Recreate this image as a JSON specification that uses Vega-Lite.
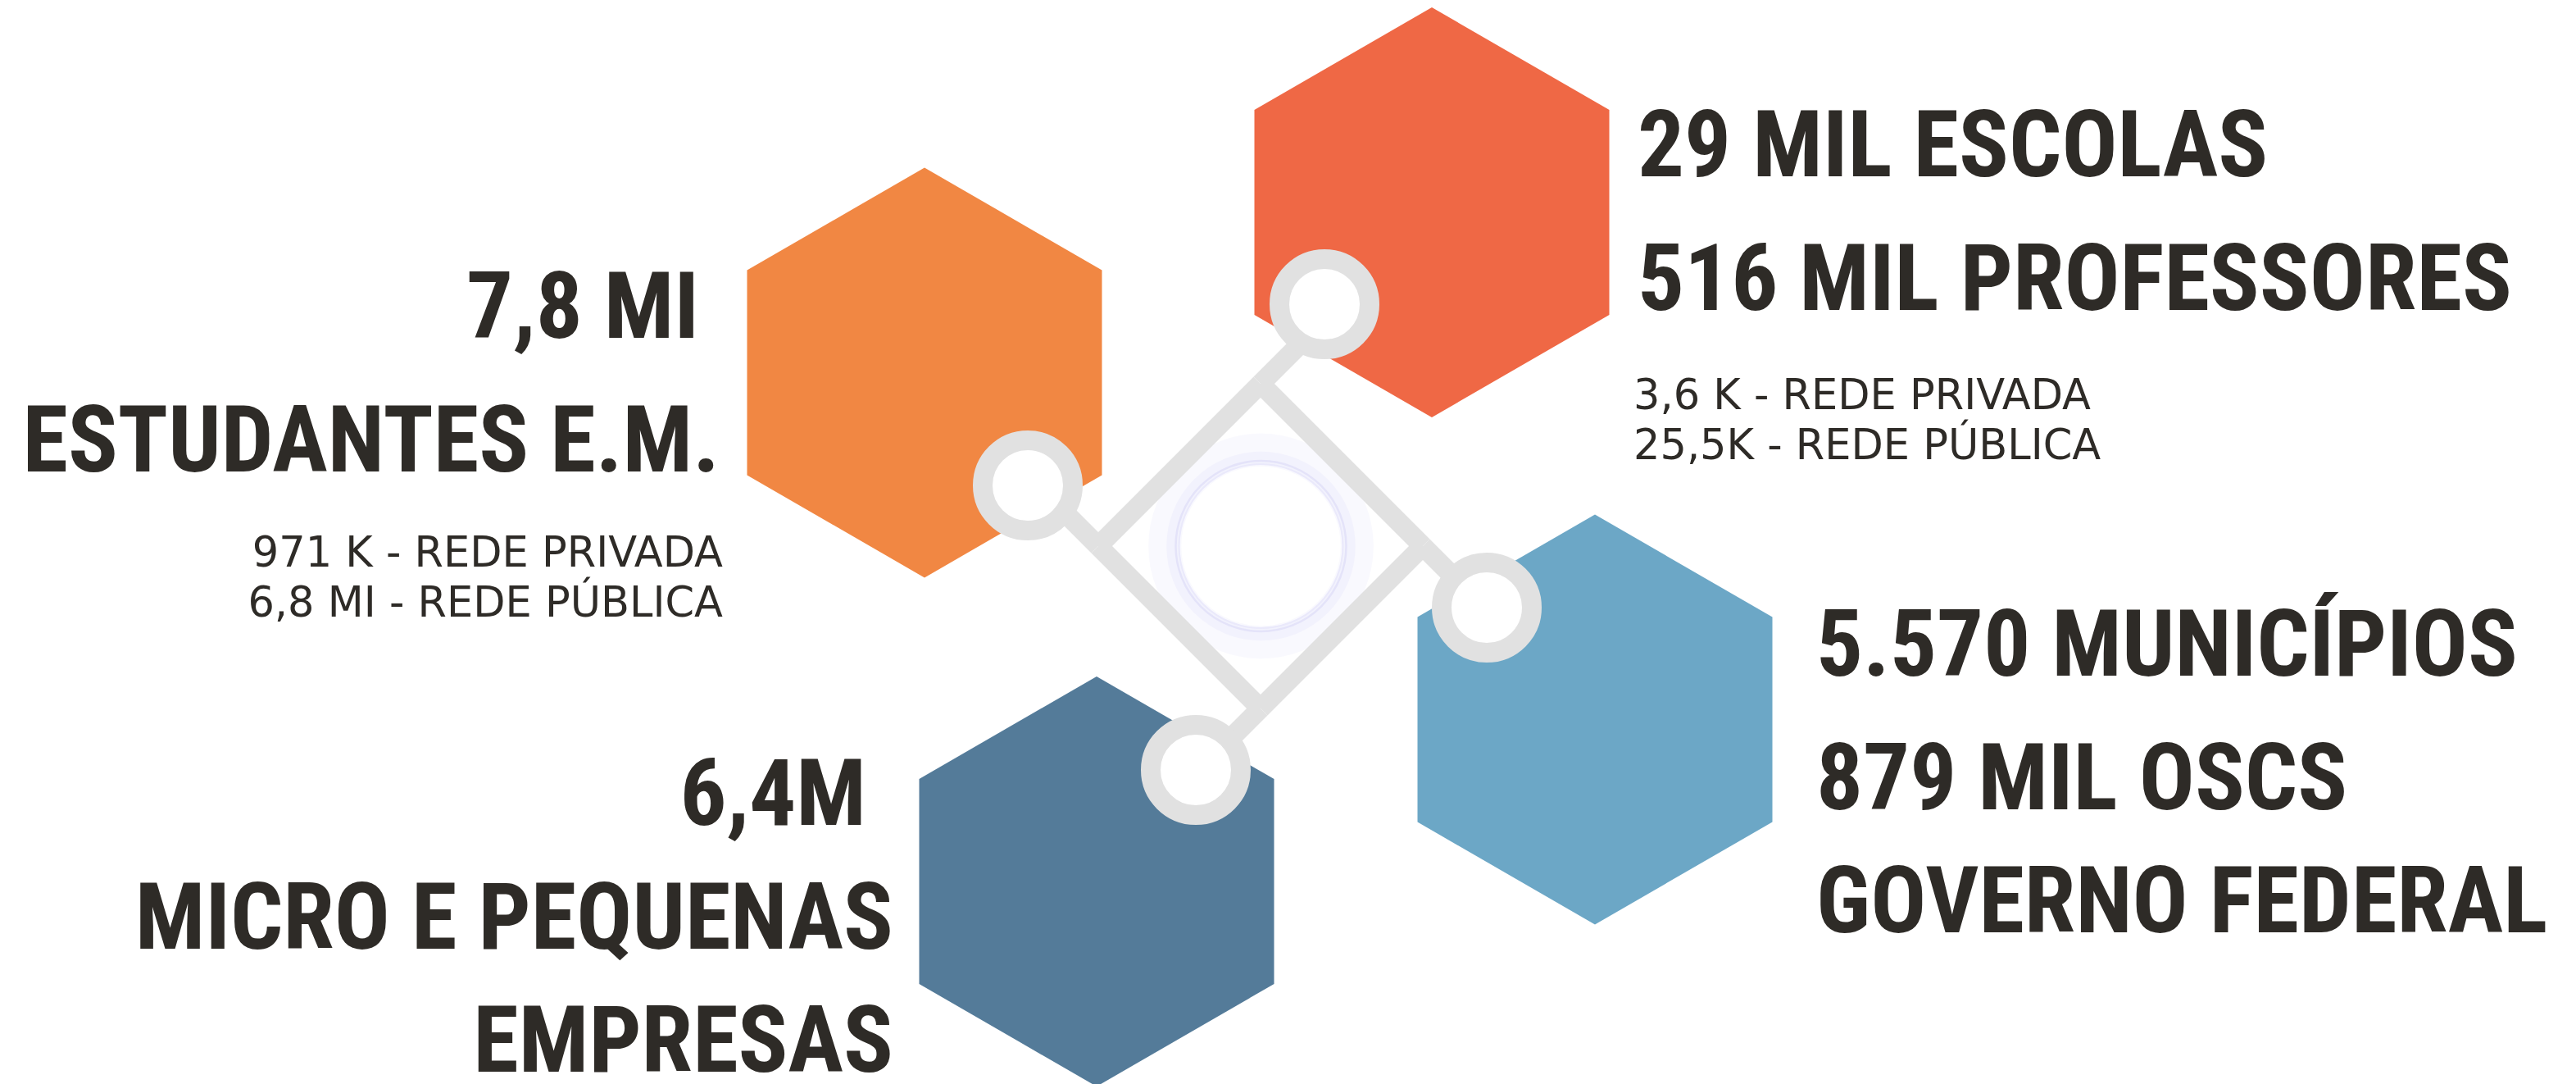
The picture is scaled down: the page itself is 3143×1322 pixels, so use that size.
{
  "$schema": "https://vega.github.io/schema/vega-lite/v6.json",
  "width": 3143,
  "height": 1322,
  "padding": 0,
  "autosize": {"type": "none"},
  "background": "#ffffff",
  "config": {"view": {"stroke": null}},
  "datasets": {
    "hexes": [
      {"topic": "estudantes", "x": 1128, "y": 454.5},
      {"topic": "escolas", "x": 1747, "y": 259},
      {"topic": "municipios", "x": 1946, "y": 877.5},
      {"topic": "empresas", "x": 1338, "y": 1075}
    ],
    "links": [
      {"x": 1340, "y": 666, "x2": 1538, "y2": 468},
      {"x": 1538, "y": 468, "x2": 1625, "y2": 381},
      {"x": 1538, "y": 468, "x2": 1736, "y2": 666},
      {"x": 1736, "y": 666, "x2": 1812, "y2": 742},
      {"x": 1736, "y": 666, "x2": 1538, "y2": 864},
      {"x": 1538, "y": 864, "x2": 1461, "y2": 941},
      {"x": 1538, "y": 864, "x2": 1340, "y2": 666},
      {"x": 1340, "y": 666, "x2": 1260, "y2": 586}
    ],
    "rings": [
      {"topic": "estudantes", "x": 1254, "y": 592},
      {"topic": "escolas", "x": 1616, "y": 371},
      {"topic": "municipios", "x": 1814, "y": 741},
      {"topic": "empresas", "x": 1459, "y": 939}
    ],
    "hub": [
      {"x": 1538.5, "y": 666}
    ],
    "labels": [
      {"block": "estudantes", "role": "headline", "text": "7,8 MI", "x": 853, "y": 428},
      {"block": "estudantes", "role": "headline", "text": "ESTUDANTES E.M.", "x": 878, "y": 591},
      {"block": "estudantes", "role": "detail", "text": "971 K - REDE PRIVADA", "x": 882, "y": 689},
      {"block": "estudantes", "role": "detail", "text": "6,8 MI - REDE PÚBLICA", "x": 882, "y": 750},
      {"block": "escolas", "role": "headline", "text": "29 MIL ESCOLAS", "x": 1998, "y": 231},
      {"block": "escolas", "role": "headline", "text": "516 MIL PROFESSORES", "x": 1998, "y": 394},
      {"block": "escolas", "role": "detail", "text": "3,6 K - REDE PRIVADA", "x": 1993, "y": 497},
      {"block": "escolas", "role": "detail", "text": "25,5K - REDE PÚBLICA", "x": 1993, "y": 558},
      {"block": "municipios", "role": "headline", "text": "5.570 MUNICÍPIOS", "x": 2216, "y": 840},
      {"block": "municipios", "role": "headline", "text": "879 MIL OSCS", "x": 2216, "y": 1003},
      {"block": "municipios", "role": "headline", "text": "GOVERNO FEDERAL", "x": 2216, "y": 1153},
      {"block": "empresas", "role": "headline", "text": "6,4M", "x": 1057, "y": 1022},
      {"block": "empresas", "role": "headline", "text": "MICRO E PEQUENAS", "x": 1090, "y": 1173},
      {"block": "empresas", "role": "headline", "text": "EMPRESAS", "x": 1090, "y": 1323}
    ]
  },
  "encoding": {
    "x": {"field": "x", "type": "quantitative", "axis": null, "scale": {"domain": [0, 3143], "nice": false, "zero": false}},
    "y": {"field": "y", "type": "quantitative", "axis": null, "scale": {"domain": [0, 1322], "nice": false, "zero": false, "reverse": true}}
  },
  "layer": [
    {
      "data": {"name": "hexes"},
      "mark": {"type": "point", "shape": "M0,-1L0.866,-0.5L0.866,0.5L0,1L-0.866,0.5L-0.866,-0.5Z", "size": 250000, "filled": true, "opacity": 1, "strokeWidth": 0},
      "encoding": {
        "color": {"field": "topic", "type": "nominal", "legend": null, "scale": {"domain": ["estudantes", "escolas", "municipios", "empresas"], "range": ["#F18743", "#EF6845", "#6CA7C6", "#547B99"]}}
      }
    },
    {
      "data": {"name": "hub"},
      "mark": {"type": "point", "shape": "circle", "size": 55000, "filled": false, "stroke": "#efeefd", "strokeWidth": 40, "opacity": 0.35}
    },
    {
      "data": {"name": "hub"},
      "mark": {"type": "point", "shape": "circle", "size": 46000, "filled": false, "stroke": "#ebeafc", "strokeWidth": 16, "opacity": 0.45}
    },
    {
      "data": {"name": "hub"},
      "mark": {"type": "point", "shape": "circle", "size": 43264, "filled": false, "stroke": "#e4e3f9", "strokeWidth": 2.5, "opacity": 1}
    },
    {
      "data": {"name": "hub"},
      "mark": {"type": "point", "shape": "circle", "size": 40000, "filled": false, "stroke": "#eae9fb", "strokeWidth": 2, "opacity": 1}
    },
    {
      "data": {"name": "links"},
      "mark": {"type": "rule", "stroke": "#E1E1E1", "strokeWidth": 24, "strokeCap": "butt"},
      "encoding": {
        "x2": {"field": "x2"},
        "y2": {"field": "y2"}
      }
    },
    {
      "data": {"name": "rings"},
      "mark": {"type": "point", "shape": "circle", "size": 12100, "fill": "#ffffff", "stroke": "#E1E1E1", "strokeWidth": 24, "opacity": 1, "fillOpacity": 1, "strokeOpacity": 1}
    },
    {
      "data": {"name": "labels"},
      "transform": [{"filter": {"field": "role", "equal": "headline"}}, {"filter": {"field": "block", "oneOf": ["estudantes", "empresas"]}}],
      "mark": {"type": "text", "align": "right", "baseline": "alphabetic", "dy": -16, "font": "Roboto Condensed, DejaVu Sans Condensed, sans-serif", "fontWeight": "bold", "fontSize": 113, "color": "#2E2B27"},
      "encoding": {"text": {"field": "text"}}
    },
    {
      "data": {"name": "labels"},
      "transform": [{"filter": {"field": "role", "equal": "headline"}}, {"filter": {"field": "block", "oneOf": ["escolas", "municipios"]}}],
      "mark": {"type": "text", "align": "left", "baseline": "alphabetic", "dy": -16, "font": "Roboto Condensed, DejaVu Sans Condensed, sans-serif", "fontWeight": "bold", "fontSize": 113, "color": "#2E2B27"},
      "encoding": {"text": {"field": "text"}}
    },
    {
      "data": {"name": "labels"},
      "transform": [{"filter": {"field": "role", "equal": "detail"}}, {"filter": {"field": "block", "equal": "estudantes"}}],
      "mark": {"type": "text", "align": "right", "baseline": "alphabetic", "dy": 2, "font": "DejaVu Sans", "fontSize": 51, "color": "#2E2B27"},
      "encoding": {"text": {"field": "text"}}
    },
    {
      "data": {"name": "labels"},
      "transform": [{"filter": {"field": "role", "equal": "detail"}}, {"filter": {"field": "block", "equal": "escolas"}}],
      "mark": {"type": "text", "align": "left", "baseline": "alphabetic", "dy": 2, "font": "DejaVu Sans", "fontSize": 51, "color": "#2E2B27"},
      "encoding": {"text": {"field": "text"}}
    }
  ]
}
